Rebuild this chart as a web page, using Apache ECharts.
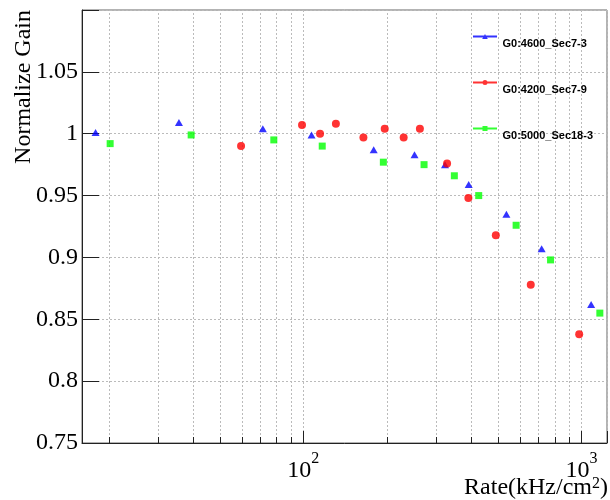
<!DOCTYPE html>
<html><head><meta charset="utf-8">
<script src="https://cdn.jsdelivr.net/npm/echarts@6/dist/echarts.min.js"></script>
<style>html,body{margin:0;padding:0;background:#fff}#c{width:610px;height:500px}</style>
</head><body><div id="c"></div>
<script>
const seriesNames = ['G0:4600_Sec7-3', 'G0:4200_Sec7-9', 'G0:5000_Sec18-3'];
const blueRate  = [17.9, 35.7, 71.5, 107, 179, 251, 323, 393, 537, 719, 1083];
const blueGain  = [1.001, 1.009, 1.004, 0.999, 0.987, 0.983, 0.975, 0.959, 0.935, 0.907, 0.862];
const redRate   = [59.7, 98.9, 114.8, 130.9, 164.4, 196.1, 229.4, 262.4, 328.6, 392, 492, 657, 981];
const redGain   = [0.990, 1.007, 1.000, 1.008, 0.997, 1.004, 0.997, 1.004, 0.976, 0.948, 0.918, 0.878, 0.838];
const greenRate = [20.2, 39.5, 78.3, 116.9, 193.9, 271.6, 349, 427, 582, 774, 1164];
const greenGain = [0.992, 0.999, 0.995, 0.990, 0.977, 0.975, 0.966, 0.950, 0.926, 0.898, 0.855];
const minorTicks = [20, 30, 40, 50, 60, 70, 80, 90, 200, 300, 400, 500, 600, 700, 800, 900];
const xMin = 16, xMax = 1235;
const yMin = 0.75, yMax = 1.1, yStep = 0.05;
const xTitle = 'Rate(kHz/cm{s|2})';
const yTitle = 'Normalize Gain';

const zip = (a, b) => a.map((v, i) => [v, b[i]]);
const serif = '"Liberation Serif", "DejaVu Serif", serif';
const sans = '"Liberation Sans", Arial, sans-serif';
const gridColor = '#bbbbbb';
const axisColor = '#222222';

const chart = echarts.init(document.getElementById('c'), null, {renderer: 'canvas'});
chart.setOption({
  backgroundColor: '#ffffff',
  animation: false,
  grid: {left: 82, right: 1, top: 10, bottom: 57, show: true, borderColor: '#666', borderWidth: 1, backgroundColor: 'transparent'},
  legend: {
    orient: 'vertical', left: 473, top: 24, padding: 0,
    itemWidth: 25, itemHeight: 5, itemGap: 21,
    formatter: function (name) { return '{t|' + name + '}'; },
    textStyle: {
      fontFamily: sans, fontWeight: 'bold', fontSize: 11, color: '#000',
      rich: {t: {fontFamily: sans, fontWeight: 'bold', fontSize: 11, color: '#000', lineHeight: 13, padding: [14, 0, 0, 0]}}
    },
    data: [
      {name: seriesNames[0], icon: 'path://M0,1.6L24,1.6L24,3.4L0,3.4Z M12,0L14.8,5L9.2,5Z'},
      {name: seriesNames[1], icon: 'path://M0,1.6L24,1.6L24,3.4L0,3.4Z M14.5,2.5A2.5,2.5 0 1,1 9.5,2.5A2.5,2.5 0 1,1 14.5,2.5Z'},
      {name: seriesNames[2], icon: 'path://M0,1.6L24,1.6L24,3.4L0,3.4Z M9.5,0L14.5,0L14.5,5L9.5,5Z'}
    ]
  },
  xAxis: {
    type: 'log', logBase: 10, min: xMin, max: xMax,
    axisLine: {show: true, onZero: false, lineStyle: {color: axisColor, width: 1}},
    axisTick: {show: true, inside: true, length: 12, lineStyle: {color: axisColor}},
    minorTick: {show: false},
    splitLine: {show: true, lineStyle: {color: gridColor, type: [2, 2], width: 1}},
    axisLabel: {
      margin: 8,
      showMinLabel: true, showMaxLabel: true,
      formatter: function (v) {
        const e = Math.log10(v), r = Math.round(e);
        if (Math.abs(e - r) > 1e-6) return '';
        return '{b|10}{s|' + r + '}';
      },
      rich: {
        b: {fontFamily: serif, fontSize: 24, color: '#000', lineHeight: 32, verticalAlign: 'bottom'},
        s: {fontFamily: serif, fontSize: 16, color: '#000', lineHeight: 16, verticalAlign: 'top'}
      }
    }
  },
  yAxis: {
    type: 'value', min: yMin, max: yMax, interval: yStep,
    axisLine: {show: true, onZero: false, lineStyle: {color: axisColor, width: 1}},
    axisTick: {show: true, inside: true, length: 17, lineStyle: {color: axisColor}},
    splitLine: {show: true, lineStyle: {color: gridColor, type: [2, 2], width: 1}},
    axisLabel: {
      margin: 4, fontFamily: serif, fontSize: 24, color: '#000',
      formatter: function (v) { return Math.abs(v - yMax) < 1e-9 ? '' : String(+v.toFixed(2)); }
    }
  },
  graphic: [
    {type: 'text', x: 24, y: 10, rotation: Math.PI / 2,
     style: {text: yTitle, font: '24px ' + serif, fill: '#000', align: 'right', verticalAlign: 'middle'}},
    {type: 'text', x: 608, y: 500,
     style: {text: xTitle, align: 'right', verticalAlign: 'bottom', fill: '#000',
       fontFamily: serif, fontSize: 24,
       rich: {s: {fontFamily: serif, fontSize: 16, verticalAlign: 'top', fill: '#000'}}}}
  ],
  series: [
    {
      type: 'custom', silent: true, z: 1,
      data: minorTicks.map(v => [v, yMin]),
      renderItem: function (params, api) {
        const v = api.value(0);
        const b = api.coord([v, yMin]);
        const t = api.coord([v, yMax]);
        const x = Math.round(b[0]) + 0.5;
        return {type: 'group', children: [
          {type: 'line', shape: {x1: x, y1: b[1], x2: x, y2: t[1]}, style: {stroke: gridColor, lineWidth: 1, lineDash: [2, 2]}},
          {type: 'line', shape: {x1: x, y1: b[1], x2: x, y2: b[1] - 6}, style: {stroke: axisColor, lineWidth: 1}}
        ]};
      }
    },
    {name: seriesNames[0], type: 'scatter', z: 3, symbol: 'triangle', symbolSize: [8, 7],
     itemStyle: {color: '#0000ff'}, data: zip(blueRate, blueGain)},
    {name: seriesNames[1], type: 'scatter', z: 3, symbol: 'circle', symbolSize: 8,
     itemStyle: {color: '#ff0000'}, data: zip(redRate, redGain)},
    {name: seriesNames[2], type: 'scatter', z: 3, symbol: 'rect', symbolSize: 7,
     itemStyle: {color: '#00ff00'}, data: zip(greenRate, greenGain)}
  ]
});
</script></body></html>
